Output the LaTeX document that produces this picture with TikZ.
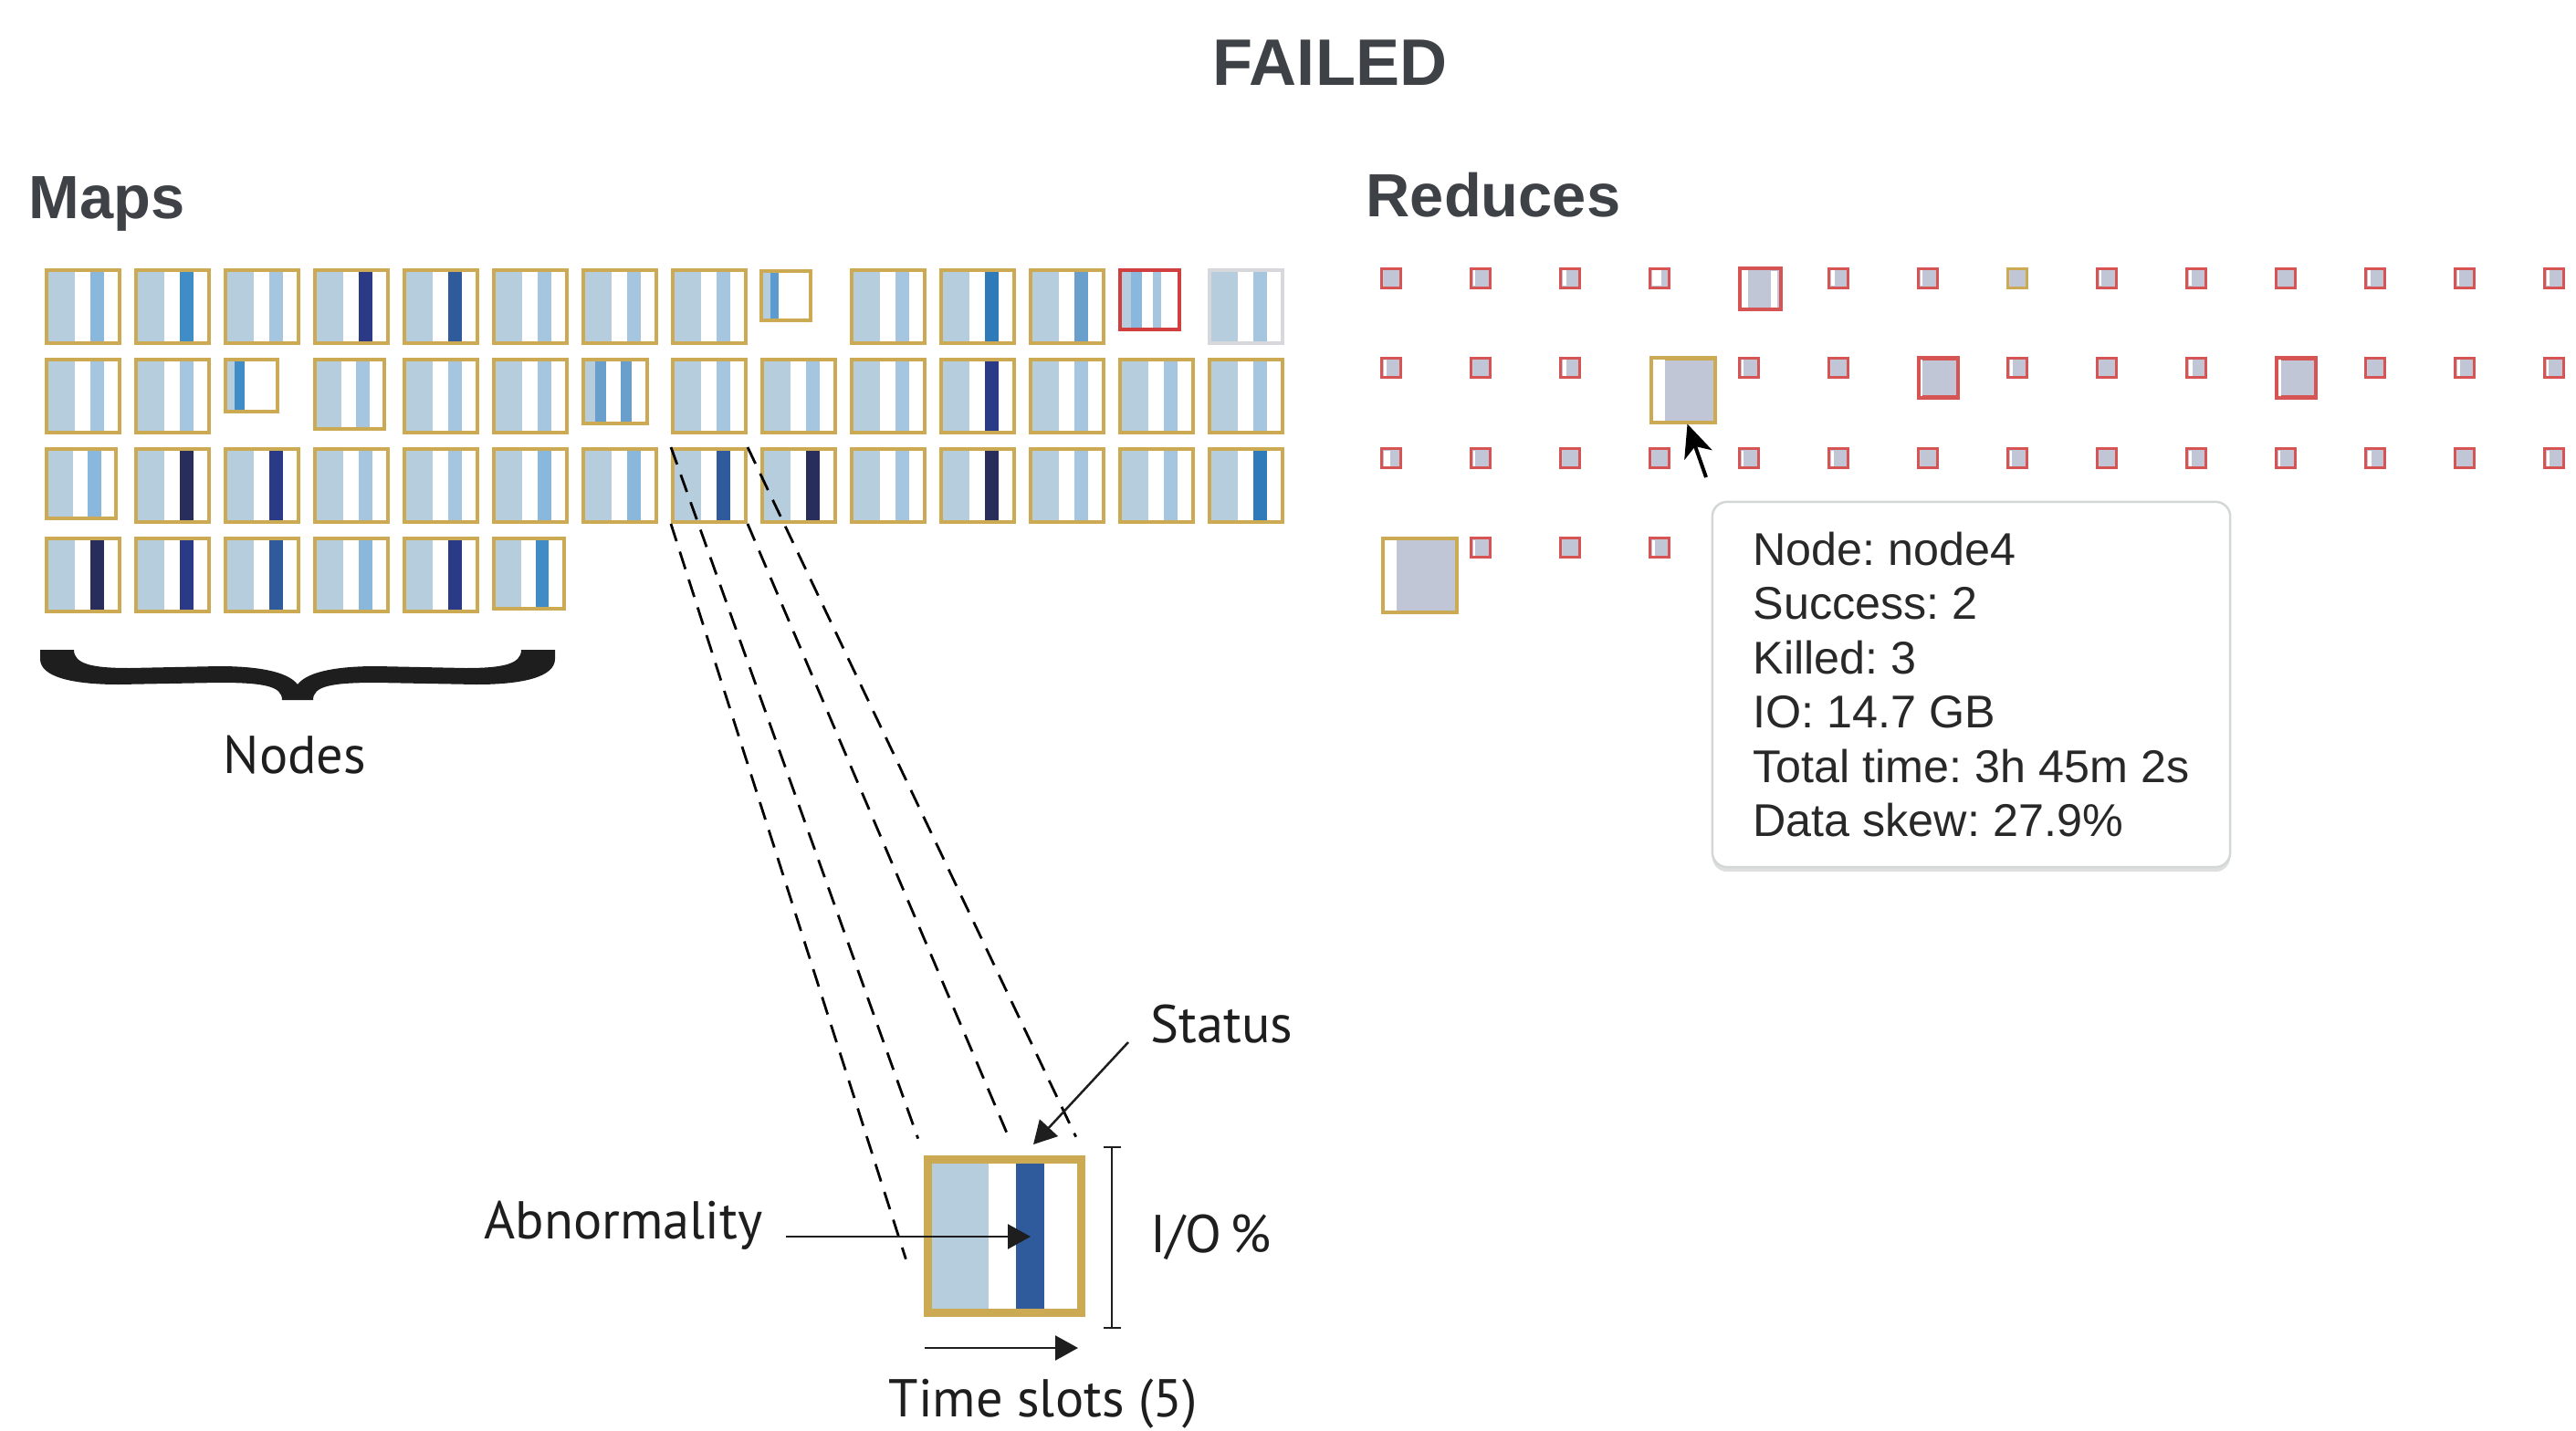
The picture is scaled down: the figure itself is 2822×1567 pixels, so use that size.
\documentclass[tikz,border=0pt]{standalone}
\usepackage{fontspec}
\setmainfont{Liberation Sans}
\newfontfamily\annofont{PT Sans}
\usetikzlibrary{arrows.meta, shadows, calc}

\definecolor{mgold}{RGB}{204,170,84}
\definecolor{mred}{RGB}{208,62,62}
\definecolor{mgrey}{RGB}{214,216,220}
\definecolor{mlight}{RGB}{181,205,221}
\definecolor{sLt}{RGB}{166,198,224}
\definecolor{sMl}{RGB}{138,184,220}
\definecolor{sMl2}{RGB}{106,159,204}
\definecolor{sSm}{RGB}{91,155,208}
\definecolor{sMd}{RGB}{63,140,198}
\definecolor{sMd2}{RGB}{47,122,184}
\definecolor{sBl}{RGB}{47,91,156}
\definecolor{sNv}{RGB}{43,58,134}
\definecolor{sDk}{RGB}{40,45,92}
\definecolor{rred}{RGB}{214,84,84}
\definecolor{rfill}{RGB}{192,198,214}
\definecolor{headgray}{RGB}{62,66,70}
\definecolor{tipgray}{RGB}{212,215,215}
\definecolor{tiptext}{RGB}{40,40,40}
\definecolor{inkblack}{RGB}{30,30,30}

\tikzset{
    mbox/.style={
        rectangle, draw=mgold, line width=0.04cm, inner sep=0pt
    },
    rbox/.style={
        rectangle, fill=rfill, line width=0.03cm, inner sep=0pt
    },
    headtxt/.style={
        font=\bfseries\fontsize{19}{22}\selectfont, text=headgray, inner sep=0pt
    },
    tipbox/.style={
        rectangle, rounded corners=0.16cm, draw=tipgray, line width=0.025cm, fill=white,
        minimum width=5.67cm, minimum height=4.0cm, align=left,
        font=\fontsize{14.3}{16.9}\selectfont\frenchspacing, text=tiptext,
        drop shadow={shadow xshift=0cm, shadow yshift=-0.05cm, opacity=0.25}
    },
    anno/.style={
        font=\annofont\fontsize{16.6}{20}\selectfont, text=inkblack, inner sep=0pt
    },
    annoarrow/.style={
        -{Triangle[length=0.25cm, width=0.27cm]}, line width=0.025cm, draw=inkblack
    },
    dashline/.style={
        dash pattern=on 0.2cm off 0.12cm, line width=0.028cm, draw=black
    },
    cursorarrow/.style={
        -{Stealth[length=0.36cm, width=0.32cm, inset=0.1cm]}, line width=0.04cm, draw=black
    }
}

% map cell: name, left, top, size, stripe colour, border colour
\newcommand{\mcell}[6]{%
  \fill[mlight] ({#2+0.045*#4}, {#3+0.045*#4}) rectangle ({#2+0.39*#4}, {#3+0.955*#4});
  \fill[fill=#5] ({#2+0.59*#4}, {#3+0.045*#4}) rectangle ({#2+0.77*#4}, {#3+0.955*#4});
  \node[mbox, draw=#6, minimum size={(#4-4)*0.01cm}] (#1) at ({#2+#4/2}, {#3+#4/2}) {};
}
% half-filled map cell
\newcommand{\scell}[6]{%
  \fill[mlight] ({#2+0.06*#4}, {#3+0.06*#4}) rectangle ({#2+0.2*#4}, {#3+0.94*#4});
  \fill[fill=#5] ({#2+0.2*#4}, {#3+0.06*#4}) rectangle ({#2+0.37*#4}, {#3+0.94*#4});
  \node[mbox, draw=#6, minimum size={(#4-4)*0.01cm}] (#1) at ({#2+#4/2}, {#3+#4/2}) {};
}
% reduce cell: name, left, top, size, border, white strip
\newcommand{\rcell}[6]{%
  \node[rbox, draw=#5, minimum size={(#4-3)*0.01cm}] (#1) at ({#2+#4/2}, {#3+#4/2}) {};
  \fill[white] ({#2+3.5}, {#3+3.5}) rectangle ({#2+3.5+#6*#4}, {#3+#4-3.5});
}

\begin{document}
\begin{tikzpicture}[x=0.01cm, y=-0.01cm]
    \useasboundingbox (0,0) rectangle (2822,1567);

    % titles
    \node[headtxt, font=\bfseries\fontsize{20.5}{24}\selectfont, anchor=base] (failed) at (1457, 94) {FAILED};
    \node[headtxt, anchor=base west] (mapshead) at (31, 240) {Maps};
    \node[headtxt, anchor=base west] (redhead) at (1496, 238) {Reduces};

    % maps
    \foreach \c/\sz/\s in {1/84/sMl, 2/84/sMd, 3/84/sLt, 4/84/sNv, 5/84/sBl, 6/84/sLt, 7/84/sLt, 8/84/sLt, 10/84/sLt, 11/84/sMd2, 12/84/sMl2}
        {\mcell{m-1-\c}{49+98*(\c-1)}{294}{\sz}{\s}{mgold}}
    \scell{m-1-9}{832}{295}{58}{sSm}{mgold}
    \scell{m-1-13}{1225}{294}{69}{sMl}{mred}
    \fill[sLt] ({1225+0.55*69}, {294+0.06*69}) rectangle ({1225+0.68*69}, {294+0.94*69});
    \mcell{m-1-14}{1323}{294}{84}{sLt}{mgrey}

    \foreach \c/\sz/\s in {1/84/sLt, 2/84/sLt, 4/80/sLt, 5/84/sLt, 6/84/sLt, 8/84/sLt, 9/84/sLt, 10/84/sLt, 11/84/sNv, 12/84/sLt, 13/84/sLt, 14/84/sLt}
        {\mcell{m-2-\c}{49+98*(\c-1)}{392}{\sz}{\s}{mgold}}
    \scell{m-2-3}{245}{392}{61}{sMd}{mgold}
    \scell{m-2-7}{637}{392}{74}{sMl2}{mgold}
    \fill[sMl2] ({637+0.58*74}, {392+0.06*74}) rectangle ({637+0.74*74}, {392+0.94*74});

    \foreach \c/\sz/\s in {1/80/sMl, 2/84/sDk, 3/84/sNv, 4/84/sLt, 5/84/sLt, 6/84/sMl, 7/84/sMl, 8/84/sBl, 9/84/sDk, 10/84/sLt, 11/84/sDk, 12/84/sLt, 13/84/sLt, 14/84/sMd2}
        {\mcell{m-3-\c}{49+98*(\c-1)}{490}{\sz}{\s}{mgold}}

    \foreach \c/\sz/\s in {1/84/sDk, 2/84/sNv, 3/84/sBl, 4/84/sMl, 5/84/sNv, 6/81/sMd}
        {\mcell{m-4-\c}{49+98*(\c-1)}{588}{\sz}{\s}{mgold}}

    % brace under the nodes
    \fill[inkblack] (44,712) -- (44,722) .. controls (44,742) and (80,750) .. (130,750) -- (240,748)
        .. controls (290,748) and (309,752) .. (309,767) -- (343,767)
        .. controls (343,752) and (362,748) .. (412,748) -- (522,750)
        .. controls (572,750) and (608,742) .. (608,722) -- (608,712) -- (571,712)
        .. controls (571,728) and (550,732) .. (510,732) -- (412,730)
        .. controls (362,730) and (335,738) .. (326,750)
        .. controls (317,738) and (290,730) .. (240,730) -- (142,732)
        .. controls (102,732) and (81,728) .. (81,712) -- cycle;
    \node[anno, anchor=base] (nodeslbl) at (323, 847) {Nodes};

    % reduces
    \foreach \c/\w in {1/0, 2/0.1, 3/0.2, 4/0.45, 6/0.2, 7/0.1, 9/0.1, 10/0.15, 11/0, 12/0.15, 13/0.1, 14/0.15}
        {\rcell{r-1-\c}{1512+98*(\c-1)}{293}{24}{rred}{\w}}
    \rcell{r-1-5}{1904}{293}{48}{rred, line width=0.04cm}{0.15}
    \fill[white] (1940,297) rectangle (1947,337);
    \rcell{r-1-8}{2198}{293}{24}{mgold}{0}

    \foreach \c/\w in {1/0.15, 2/0, 3/0.2, 5/0.1, 6/0, 8/0.15, 9/0, 10/0.2, 12/0, 13/0.15, 14/0.1}
        {\rcell{r-2-\c}{1512+98*(\c-1)}{391}{24}{rred}{\w}}
    \rcell{r-2-4}{1807}{391}{73}{mgold, line width=0.04cm}{0.18}
    \rcell{r-2-7}{2100}{391}{46}{rred, line width=0.04cm}{0.06}
    \rcell{r-2-11}{2492}{391}{46}{rred, line width=0.04cm}{0.08}

    \foreach \c/\w in {1/0.3, 2/0.1, 3/0, 4/0, 5/0.1, 6/0.15, 7/0, 8/0.1, 9/0, 10/0.15, 11/0.1, 12/0.2, 13/0, 14/0.15}
        {\rcell{r-3-\c}{1512+98*(\c-1)}{490}{24}{rred}{\w}}

    \rcell{r-4-1}{1513}{588}{84}{mgold, line width=0.04cm}{0.16}
    \foreach \c/\w in {2/0.1, 3/0, 4/0.15}
        {\rcell{r-4-\c}{1512+98*(\c-1)}{588}{24}{rred}{\w}}

    % mouse pointer and tooltip
    \coordinate (cursortail) at (1869,523);
    \draw[cursorarrow] (cursortail) -- ([xshift=0.05cm]r-2-4.south);
    \node[tipbox] (tooltip) at (2159.5, 750) {Node: node4\\Success: 2\\Killed: 3\\IO: 14.7 GB\\Total time: 3h 45m 2s\\Data skew: 27.9\%};

    % zoomed cell
    \fill[mlight] (1020,1273) rectangle (1083,1436);
    \fill[sBl] (1113,1273) rectangle (1144,1436);
    \node[mbox, line width=0.09cm, minimum size=1.67cm] (zoom) at (1100.5,1354.5) {};
    \draw[dashline, shorten >=0.2cm] (m-3-8.north west) -- (zoom.north west);
    \draw[dashline, shorten >=0.23cm] (m-3-8.north east) -- (zoom.north east);
    \draw[dashline, shorten >=0.66cm] (m-3-8.south west) -- (zoom.south west);
    \draw[dashline, shorten >=2.11cm] (m-3-8.south east) -- (zoom.south east);

    % annotations
    \node[anno, anchor=base west] (statuslbl) at (1260, 1142) {Status};
    \node[anno, anchor=base west] (abnlbl) at (530, 1357) {Abnormality};
    \node[anno, anchor=base west] (iolbl) at (1260, 1372) {I/O\,\%};
    \node[anno, anchor=base west] (timelbl) at (973, 1552) {Time slots (5)};

    \coordinate (stattail) at (1236,1142);
    \coordinate (stathead) at (1132,1254);
    \coordinate (abntail) at (861,1355);
    \coordinate (abnhead) at (1129,1355);
    \coordinate (timetail) at (1013,1477);
    \coordinate (timehead) at (1181,1477);
    \coordinate (iotop) at (1218,1256);
    \coordinate (iobot) at (1218,1456);

    \draw[annoarrow] (stattail) -- (stathead);
    \draw[annoarrow] (abntail) -- (abnhead);
    \draw[annoarrow] (timetail) -- (timehead);
    \draw[{Bar[width=0.19cm]}-{Bar[width=0.19cm]}, line width=0.02cm, draw=inkblack] (iotop) -- (iobot);

\end{tikzpicture}
\end{document}
